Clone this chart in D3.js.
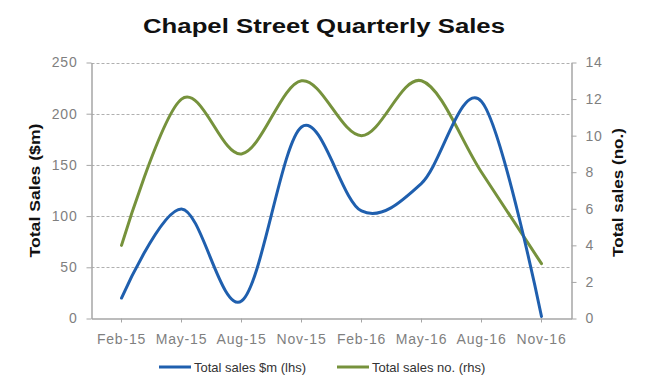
<!DOCTYPE html>
<html>
<head>
<meta charset="utf-8">
<script src="https://cdn.jsdelivr.net/npm/d3@7"></script>
<style>
  html, body { margin: 0; padding: 0; background: #fff; }
  svg { display: block; font-family: "Liberation Sans", Arial, sans-serif; }
</style>
</head>
<body>
<svg id="chart" width="650" height="392"></svg>
<script>
const categories = ["Feb-15", "May-15", "Aug-15", "Nov-15", "Feb-16", "May-16", "Aug-16", "Nov-16"];
const salesValue = [20, 107, 17, 187, 105, 132, 212, 2];     // Total sales $m (lhs)
const salesCount = [4, 12, 9, 13, 10, 13, 8, 3];              // Total sales no. (rhs)
const leftTicks = [0, 50, 100, 150, 200, 250];
const rightTicks = [0, 2, 4, 6, 8, 10, 12, 14];
const seriesNames = ["Total sales $m (lhs)", "Total sales no. (rhs)"];
const titleText = "Chapel Street Quarterly Sales";
const leftTitle = "Total Sales ($m)";
const rightTitle = "Total sales (no.)";

const svg = d3.select("#chart");
const plot = { left: 91.5, right: 571.5, top: 62.5, bottom: 318.5 };
const blue = "#1f5fae", green = "#76923c";
const axisGray = "#a6a6a6", labelGray = "#7f7f7f";

const x = d3.scaleBand().domain(categories).range([plot.left, plot.right]).padding(0);
const xc = d => x(d) + x.bandwidth() / 2;
const yL = d3.scaleLinear().domain([0, 250]).range([plot.bottom, plot.top]);
const yR = d3.scaleLinear().domain([0, 14]).range([plot.bottom, plot.top]);

// Title
svg.append("text")
  .attr("x", 324).attr("y", 33)
  .attr("text-anchor", "middle")
  .attr("font-size", 20).attr("font-weight", "bold")
  .attr("textLength", 362).attr("lengthAdjust", "spacingAndGlyphs")
  .attr("fill", "#111")
  .text(titleText);

// Gridlines
svg.append("g").selectAll("line")
  .data(leftTicks.filter(t => t > 0))
  .join("line")
  .attr("x1", plot.left).attr("x2", plot.right)
  .attr("y1", d => Math.round(yL(d)) + 0.5).attr("y2", d => Math.round(yL(d)) + 0.5)
  .attr("stroke", "#b0b0b0").attr("stroke-width", 1)
  .attr("stroke-dasharray", "3,2");

function styleAxis(g) {
  g.select(".domain").attr("stroke", axisGray).attr("stroke-width", 1.5);
  g.selectAll(".tick line").attr("stroke", axisGray).attr("stroke-width", 1);
  g.selectAll(".tick text")
    .attr("fill", labelGray)
    .attr("font-size", 14)
    .attr("letter-spacing", "0.8px")
    .attr("font-family", "Liberation Sans, Arial, sans-serif");
}

// Left axis
svg.append("g")
  .attr("transform", `translate(${plot.left},0)`)
  .call(d3.axisLeft(yL).tickValues(leftTicks).tickSizeInner(5).tickSizeOuter(0).tickPadding(9))
  .call(styleAxis);

// Right axis
svg.append("g")
  .attr("transform", `translate(${plot.right},0)`)
  .call(d3.axisRight(yR).tickValues(rightTicks).tickSizeInner(5).tickSizeOuter(0).tickPadding(9))
  .call(styleAxis);

// Bottom axis
const xAxis = svg.append("g")
  .attr("transform", `translate(0,${plot.bottom})`)
  .call(d3.axisBottom(x).tickSizeInner(4).tickSizeOuter(0).tickPadding(12))
  .call(styleAxis);

// Axis titles
svg.append("text")
  .attr("transform", `translate(40,${(plot.top + plot.bottom) / 2}) rotate(-90)`)
  .attr("text-anchor", "middle")
  .attr("font-size", 15).attr("font-weight", "bold")
  .attr("textLength", 134).attr("lengthAdjust", "spacingAndGlyphs")
  .attr("fill", "#111")
  .text(leftTitle);

svg.append("text")
  .attr("transform", `translate(623,${(plot.top + plot.bottom) / 2 + 2}) rotate(-90)`)
  .attr("text-anchor", "middle")
  .attr("font-size", 15).attr("font-weight", "bold")
  .attr("textLength", 129).attr("lengthAdjust", "spacingAndGlyphs")
  .attr("fill", "#111")
  .text(rightTitle);

// Lines
const lineL = d3.line().x((d, i) => xc(categories[i])).y(d => yL(d)).curve(d3.curveCardinal.tension(0));
const lineR = d3.line().x((d, i) => xc(categories[i])).y(d => yR(d)).curve(d3.curveCardinal.tension(0));

svg.append("path").datum(salesCount)
  .attr("d", lineR).attr("fill", "none")
  .attr("stroke", green).attr("stroke-width", 3).attr("stroke-linecap", "round");

svg.append("path").datum(salesValue)
  .attr("d", lineL).attr("fill", "none")
  .attr("stroke", blue).attr("stroke-width", 3).attr("stroke-linecap", "round");

// Legend
const legend = [
  { name: seriesNames[0], color: blue, x: 159 },
  { name: seriesNames[1], color: green, x: 337 }
];
const lg = svg.append("g").selectAll("g").data(legend).join("g")
  .attr("transform", d => `translate(${d.x},367)`);
lg.append("line").attr("x1", 0).attr("x2", 32).attr("y1", 0).attr("y2", 0)
  .attr("stroke", d => d.color).attr("stroke-width", 3);
lg.append("text").attr("x", 35).attr("y", 4.5)
  .attr("font-size", 13).attr("fill", "#333")
  .text(d => d.name);
</script>
</body>
</html>
